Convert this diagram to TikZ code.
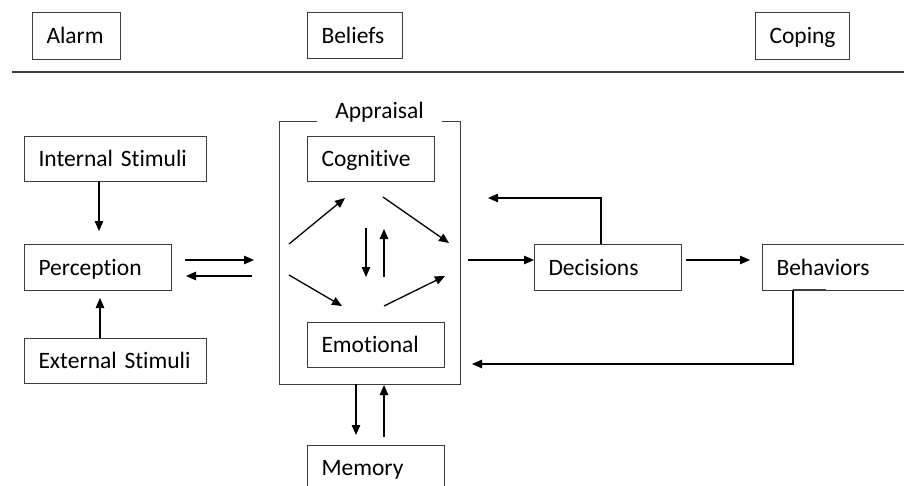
\documentclass[tikz,border=0pt]{standalone}
\usepackage{fontspec}
\setmainfont[Ligatures=NoCommon]{Carlito}
\usetikzlibrary{arrows.meta}
\definecolor{boxgray}{HTML}{3C3C3C}
\tikzset{
  box/.style={draw=boxgray, line width=1pt, anchor=north west, inner xsep=14pt,
    align=left, text height=17pt, text depth=2pt,
    font=\fontsize{23.5}{28}\selectfont},
  arr/.style={draw=black, line width=1.3pt, -{Triangle[length=10pt,width=8.5pt]}},
  frame/.style={draw=boxgray, line width=1pt},
}
\begin{document}
\begin{tikzpicture}[x=1pt,y=-1pt]
\useasboundingbox (0,0) rectangle (904,485);
\clip (0,0) rectangle (904,485);
% top row
\node[box, text width=60pt, minimum height=47pt] (alarm) at (32,12) {Alarm};
\node[box, text width=67pt, minimum height=46pt] (beliefs) at (307,12) {Beliefs};
\node[box, text width=66pt, minimum height=47pt] (coping) at (755,12) {Coping};
\coordinate (sepL) at (12,72);
\coordinate (sepR) at (904,72);
\draw[draw=boxgray, line width=2.5pt] (sepL) -- (sepR);
% left column
\node[box, text width=154pt, minimum height=45pt] (internal) at (24,136) {Internal Stimuli};
\node[box, text width=119pt, minimum height=46pt] (perception) at (24,244) {Perception};
\node[box, text width=154pt, minimum height=45pt] (external) at (24,338) {External Stimuli};
% appraisal frame
\coordinate (fa) at (317,121);
\coordinate (fb) at (279,121);
\coordinate (fc) at (279,384);
\coordinate (fd) at (460,384);
\coordinate (fe) at (460,121);
\coordinate (ff) at (442,121);
\draw[frame] (fa) -- (fb) -- (fc) -- (fd) -- (fe) -- (ff);
\node[font=\fontsize{23.5}{28}\selectfont, inner sep=0pt, text height=17pt, text depth=2pt] (appraisal) at (379.5,111) {Appraisal};
\node[box, text width=99pt, minimum height=45pt] (cognitive) at (307,136) {Cognitive};
\node[box, text width=109pt, minimum height=45pt] (emotional) at (307,322) {Emotional};
\node[box, text width=109pt, minimum height=45pt] (memory) at (307,445) {Memory};
% right
\node[box, text width=119pt, minimum height=46pt] (decisions) at (534,244) {Decisions};
\node[box, text width=125pt, minimum height=46pt] (behaviors) at (762,244) {Behaviors};
% stimuli arrows
\coordinate (i1) at (99,181);
\coordinate (i2) at (99,231);
\draw[arr] (i1) -- (i2);
\coordinate (e1) at (100,338);
\coordinate (e2) at (100,298);
\draw[arr] (e1) -- (e2);
% perception <-> appraisal
\coordinate (p1) at (185,260);
\coordinate (p2) at (254,260);
\draw[arr] (p1) -- (p2);
\coordinate (p3) at (252,276);
\coordinate (p4) at (186,276);
\draw[arr] (p3) -- (p4);
% inside appraisal
\coordinate (a1) at (289,244); \coordinate (a2) at (345,198);
\coordinate (a3) at (383,197); \coordinate (a4) at (449,243);
\coordinate (a5) at (289,275); \coordinate (a6) at (342,306);
\coordinate (a7) at (384,306); \coordinate (a8) at (445,276);
\draw[arr] (a1) -- (a2);
\draw[arr] (a3) -- (a4);
\draw[arr] (a5) -- (a6);
\draw[arr] (a7) -- (a8);
\coordinate (v1) at (366,228); \coordinate (v2) at (366,277);
\coordinate (v3) at (384,277); \coordinate (v4) at (384,229);
\draw[arr] (v1) -- (v2);
\draw[arr] (v3) -- (v4);
% memory
\coordinate (m1) at (356,384); \coordinate (m2) at (356,435);
\coordinate (m3) at (384,445); \coordinate (m4) at (384,385);
\draw[arr] (m1) -- (m2);
\draw[arr, shorten <=8pt] (m3) -- (m4);
% decisions
\coordinate (d0) at (468,260);
\draw[arr] (d0) -- (decisions.west |- d0);
\coordinate (d1) at (601,244); \coordinate (d2) at (601,198); \coordinate (d3) at (488,198);
\draw[arr] (d1) -- (d2) -- (d3);
\coordinate (b0) at (686,260); \coordinate (b1) at (750,260);
\draw[arr] (b0) -- (b1);
% behaviors feedback
\coordinate (f1) at (793,290); \coordinate (f2) at (793,364); \coordinate (f3) at (472,364);
\draw[draw=boxgray, line width=2.2pt] (f1) -- ++(33,0);
\draw[arr, line width=1.1pt] (f1) -- (f2) -- (f3);
\end{tikzpicture}
\end{document}
